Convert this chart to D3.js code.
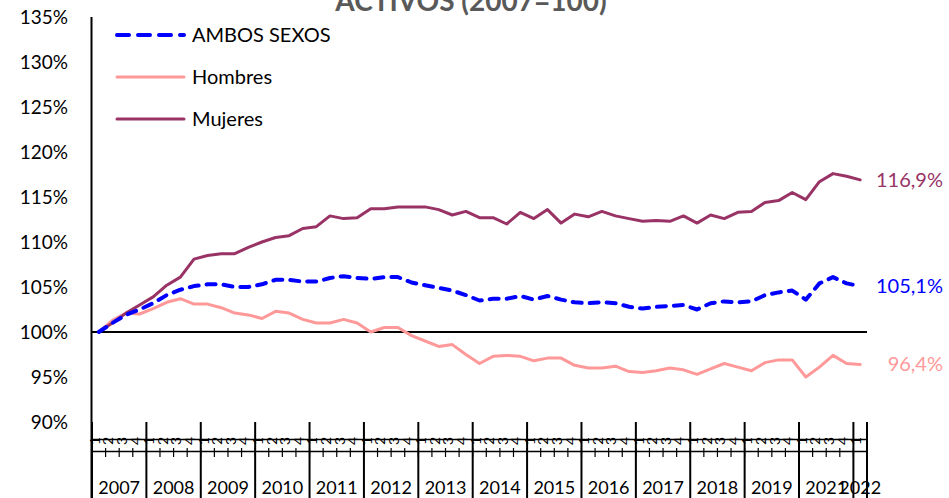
<!DOCTYPE html>
<html>
<head>
<meta charset="utf-8">
<script src="https://cdn.jsdelivr.net/npm/d3@7"></script>
<style>
  html, body { margin: 0; padding: 0; background: #fff; }
  svg { display: block; font-family: Lato, "Open Sans", sans-serif; }
</style>
</head>
<body>
<svg id="chart" width="949" height="498"></svg>
<script>
// ---- Data ----
const years = ["2007","2008","2009","2010","2011","2012","2013","2014","2015","2016","2017","2018","2019","2021","2022"];
const quarterLabels = ["1","2","3","4"];
const yTicks = [90,95,100,105,110,115,120,125,130,135];

const ambos = [100.0,101.0,101.9,102.5,103.2,104.1,104.7,105.1,105.3,105.3,105.0,105.0,105.3,105.8,105.8,105.6,105.6,106.0,106.2,106.0,
  105.9,106.1,106.1,105.5,105.2,104.9,104.6,104.1,103.5,103.7,103.7,104.0,103.6,104.0,103.6,103.3,103.2,103.3,103.2,102.8,
  102.6,102.8,102.9,103.0,102.5,103.2,103.4,103.3,103.4,104.1,104.4,104.6,103.6,105.4,106.1,105.4,105.1];
const hombres = [100.0,101.3,102.1,102.0,102.6,103.3,103.7,103.1,103.1,102.7,102.1,101.9,101.5,102.3,102.1,101.4,101.0,101.0,101.4,101.0,
  100.0,100.5,100.5,99.6,99.0,98.4,98.6,97.5,96.5,97.3,97.4,97.3,96.8,97.1,97.1,96.3,96.0,96.0,96.2,95.6,
  95.5,95.7,96.0,95.8,95.3,95.9,96.5,96.1,95.7,96.6,96.9,96.9,95.0,96.1,97.4,96.5,96.4];
const mujeres = [100.0,101.0,102.1,103.0,103.9,105.2,106.1,108.1,108.5,108.7,108.7,109.4,110.0,110.5,110.7,111.5,111.7,112.9,112.6,112.7,
  113.7,113.7,113.9,113.9,113.9,113.6,113.0,113.4,112.7,112.7,112.0,113.3,112.6,113.6,112.1,113.1,112.8,113.4,112.9,112.6,
  112.3,112.4,112.3,112.9,112.1,113.0,112.6,113.3,113.4,114.4,114.6,115.5,114.7,116.7,117.6,117.3,116.9];
const seriesNames = ["AMBOS SEXOS","Hombres","Mujeres"];
const endLabels = ["105,1%","96,4%","116,9%"];
const title = "ACTIVOS (2007=100)";

// ---- Layout ----
const svg = d3.select("#chart");
const n = ambos.length;
const xLeft = 92, xRight = 867;
const x = d3.scaleBand().domain(d3.range(n)).range([xLeft, xRight]).paddingInner(0).paddingOuter(0);
const y = d3.scaleLinear().domain([90,135]).range([422,17]);
const cx = i => x(i) + x.bandwidth()/2;

const colors = ["#0000FF","#FF9999","#993366"];
const series = [ambos, hombres, mujeres];

// Title (cut at top)
svg.append("text").attr("x", 471).attr("y", 11).attr("text-anchor","middle")
  .attr("font-size", 28).attr("font-weight", "bold").attr("fill", "#595959").text(title);

// Y axis
const yAxis = d3.axisLeft(y).tickValues(yTicks).tickSize(0).tickPadding(0)
  .tickFormat(d => d + "%");
const gy = svg.append("g").attr("transform", `translate(68,0)`).call(yAxis);
gy.select(".domain").remove();
gy.selectAll("text").attr("font-size", 19).attr("fill", "#000").attr("font-family", "Lato, sans-serif").attr("dy","0.35em");

// Y axis line
svg.append("line").attr("x1", 91.5).attr("x2", 91.5).attr("y1", 17).attr("y2", 498)
  .attr("stroke", "#000").attr("stroke-width", 2);

// 100% reference line
svg.append("line").attr("x1", xLeft).attr("x2", xRight).attr("y1", y(100)).attr("y2", y(100))
  .attr("stroke", "#000").attr("stroke-width", 2);

// X category axis (multi-level)
const gx = svg.append("g");
gx.append("line").attr("x1", xLeft).attr("x2", xRight).attr("y1", 439.5).attr("y2", 439.5).attr("stroke","#000").attr("stroke-width",1.5);
gx.append("line").attr("x1", xLeft).attr("x2", xRight).attr("y1", 451.5).attr("y2", 451.5).attr("stroke","#000").attr("stroke-width",1.5);
// quarter ticks
d3.range(n + 1).forEach(i => {
  const xx = i < n ? x(i) : xRight;
  gx.append("line").attr("x1", xx).attr("x2", xx).attr("y1", 448).attr("y2", 457).attr("stroke","#000").attr("stroke-width",1.2);
});
// quarter labels rotated
d3.range(n).forEach(i => {
  gx.append("text").attr("transform", `translate(${cx(i)+1},441) rotate(-90)`)
    .attr("text-anchor","middle").attr("font-size", 14).attr("fill","#000")
    .text(quarterLabels[i % 4]);
});
// year separators and labels
years.forEach((yr, k) => {
  const start = x(k*4);
  const endIdx = Math.min(k*4 + 4, n);
  const end = endIdx < n ? x(endIdx) : xRight;
  gx.append("line").attr("x1", start).attr("x2", start).attr("y1", 422).attr("y2", 498)
    .attr("stroke","#000").attr("stroke-width",2);
  gx.append("text").attr("x", (start+end)/2).attr("y", 494).attr("text-anchor","middle")
    .attr("font-size", 18).attr("fill","#000").text(yr);
});
gx.append("line").attr("x1", xRight).attr("x2", xRight).attr("y1", 422).attr("y2", 498)
  .attr("stroke","#000").attr("stroke-width",2);

// Lines
const line = d3.line().x((d,i) => cx(i)).y(d => y(d));
// draw order: Hombres, Mujeres, Ambos on top
[1,2,0].forEach(s => {
  const p = svg.append("path").datum(series[s]).attr("d", line)
    .attr("fill","none").attr("stroke", colors[s]).attr("stroke-linejoin","round");
  if (s === 0) p.attr("stroke-width", 4).attr("stroke-dasharray","9,8").attr("stroke-linecap","round");
  else p.attr("stroke-width", 3).attr("stroke-linecap","round");
});

// End labels
const endX = 943;
series.forEach((d, s) => {
  svg.append("text").attr("x", endX).attr("y", y(d[n-1])).attr("dy","0.35em")
    .attr("text-anchor","end").attr("font-size", 20).attr("fill", colors[s]).text(endLabels[s]);
});

// Legend
const legY = [35, 77, 119];
seriesNames.forEach((name, s) => {
  const l = svg.append("line").attr("x1", 117).attr("x2", 184).attr("y1", legY[s]).attr("y2", legY[s])
    .attr("stroke", colors[s]).attr("stroke-linecap","round");
  if (s === 0) l.attr("stroke-width", 4).attr("stroke-dasharray","12,9");
  else l.attr("stroke-width", 3);
  svg.append("text").attr("x", 192).attr("y", legY[s]).attr("dy","0.35em")
    .attr("font-size", 20).attr("fill","#000").text(name);
});
</script>
</body>
</html>
